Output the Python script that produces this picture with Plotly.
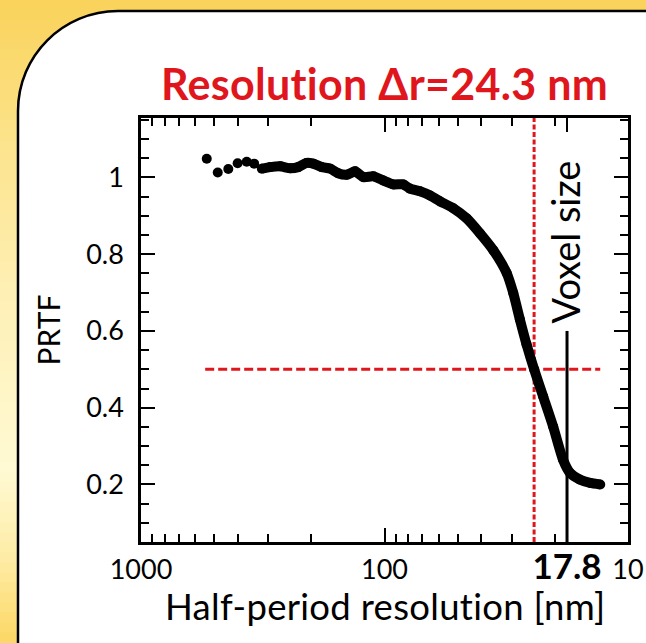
import math
import plotly.graph_objects as go

# PRTF curve: half-period resolution (nm) vs PRTF
sparse_nm = [537, 484, 438, 401, 368, 343]
sparse_prtf = [1.049, 1.013, 1.022, 1.037, 1.041, 1.036]

dense_nm = [319, 295, 268, 244, 226, 209, 196, 181, 167, 155, 143, 132, 122,
            111, 101, 92, 83.8, 78.6, 71.5, 65, 59.2, 52.2, 45.9, 40.5, 35.7,
            31.5, 29.6, 27.8, 26.1, 24.3, 22.3, 20.3, 18.5, 17.3, 15.8, 14.3, 13.0]
dense_prtf = [1.023, 1.027, 1.029, 1.024, 1.027, 1.038, 1.036, 1.027, 1.023,
              1.011, 1.007, 1.016, 1.001, 1.003, 0.992, 0.982, 0.982, 0.971,
              0.964, 0.953, 0.938, 0.920, 0.893, 0.854, 0.810, 0.751, 0.699,
              0.630, 0.565, 0.500, 0.429, 0.351, 0.265, 0.230, 0.213, 0.204, 0.200]

resolution_nm = 24.3
voxel_nm = 17.8
threshold = 0.5
threshold_span_nm = [545, 13]
voxel_line_top = 0.6

x_tickvals = [1000, 100, 17.8, 10]
x_ticktext = ["1000", "100", "<b><span style='font-size:35px'>17.8</span></b>", "10"]
x_minor = [900, 800, 700, 600, 500, 400, 300, 200, 90, 80, 70, 60, 50, 40, 30, 20]
y_tickvals = [0.2, 0.4, 0.6, 0.8, 1.0]
y_ticktext = ["0.2", "0.4", "0.6", "0.8", "1"]
y_range = [0.05, 1.155]

W, H = 646, 643
ML, MR, MT, MB = 141, 18, 118, 101
PW, PH = W - ML - MR, H - MT - MB

FONT = "Lato"
RED = "#e0161d"
# tiny letter spacing keeps "ti" as two separate glyphs
SPACED = "<span style='letter-spacing:0.3px'>%s</span>"


def fx(px):
    return (px - ML) / PW


def fy(py):
    return (H - MB - py) / PH


fig = go.Figure()

fig.add_trace(go.Scatter(
    x=threshold_span_nm, y=[threshold, threshold], mode="lines",
    line=dict(color=RED, width=3, dash="9px,4px"), hoverinfo="skip"))
fig.add_trace(go.Scatter(
    x=[resolution_nm, resolution_nm], y=y_range, mode="lines",
    line=dict(color=RED, width=3, dash="5px,2.5px"), hoverinfo="skip"))
fig.add_trace(go.Scatter(
    x=[voxel_nm, voxel_nm], y=[y_range[0], voxel_line_top], mode="lines",
    line=dict(color="black", width=3), hoverinfo="skip"))

fig.add_trace(go.Scatter(
    x=sparse_nm, y=sparse_prtf, mode="markers",
    marker=dict(color="black", size=10)))
fig.add_trace(go.Scatter(
    x=dense_nm, y=dense_prtf, mode="lines+markers",
    line=dict(color="black", width=10, shape="spline", smoothing=0.6),
    marker=dict(color="black", size=10)))

# background: warm vertical gradient in bands
stops = [(0, (249, 210, 90)), (150, (252, 228, 142)), (300, (254, 240, 182)),
         (470, (255, 250, 212)), (560, (254, 236, 165)), (643, (252, 215, 100))]
shapes = []
nb = 64
for i in range(nb):
    y0 = H * i / nb
    y1 = H * (i + 1) / nb
    yc = (y0 + y1) / 2
    for (sa, ca), (sb, cb) in zip(stops[:-1], stops[1:]):
        if sa <= yc <= sb:
            t = (yc - sa) / (sb - sa)
            c = tuple(round(a + (b - a) * t) for a, b in zip(ca, cb))
            break
    shapes.append(dict(type="rect", xref="paper", yref="paper",
                       x0=fx(-5), x1=fx(W + 5), y0=fy(y1 + 0.5), y1=fy(y0 - 0.5),
                       fillcolor="rgb(%d,%d,%d)" % c, line=dict(width=0), layer="below"))

# white panel with rounded top-left corner
R = 100
k = 0.5523
px0, py0 = 18, 11
pts = (f"M {fx(px0)},{fy(H + 20)} L {fx(px0)},{fy(py0 + R)} "
       f"C {fx(px0)},{fy(py0 + R - k * R)} {fx(px0 + R - k * R)},{fy(py0)} {fx(px0 + R)},{fy(py0)} "
       f"L {fx(W + 20)},{fy(py0)} L {fx(W + 20)},{fy(H + 20)} Z")
shapes.append(dict(type="path", xref="paper", yref="paper", path=pts,
                   fillcolor="white", line=dict(color="black", width=2.5), layer="below"))

axis_common = dict(showline=True, linecolor="black", linewidth=2.5, mirror="ticks",
                   ticks="inside", tickcolor="black", tickwidth=2, ticklen=14,
                   showgrid=False, zeroline=False, automargin=False,
                   tickfont=dict(family=FONT, size=27, color="black"))

fig.update_layout(
    width=W, height=H,
    margin=dict(l=ML, r=MR, t=MT, b=MB, pad=0, autoexpand=False),
    paper_bgcolor="rgb(250,214,96)", plot_bgcolor="white",
    showlegend=False,
    shapes=shapes,
    xaxis=dict(type="log", range=[3, 1], tickmode="array", tickvals=x_tickvals,
               ticktext=x_ticktext, ticklabelstandoff=2,
               minor=dict(tickmode="array", tickvals=x_minor, ticks="inside",
                          ticklen=8, tickwidth=1.5, tickcolor="black"),
               **axis_common),
    yaxis=dict(range=y_range, tickmode="array", tickvals=y_tickvals, ticktext=y_ticktext,
               ticklabelstandoff=9,
               minor=dict(dtick=0.05, tick0=0, ticks="inside", ticklen=8,
                          tickwidth=1.5, tickcolor="black"),
               title=dict(text="PRTF", font=dict(family=FONT, size=30, color="black"),
                          standoff=17),
               **axis_common),
    annotations=[
        dict(text=SPACED % "Resolution \u0394r=24.3 nm",
             xref="paper", yref="paper",
             x=0.5, y=fy(111), xanchor="center", yanchor="bottom", showarrow=False,
             font=dict(family=FONT, size=43, color=RED, weight="bold")),
        dict(text=SPACED % "Half-period resolution [nm]",
             xref="paper", yref="paper",
             x=0.5, y=fy(606), xanchor="center", yanchor="middle", showarrow=False,
             font=dict(family=FONT, size=36.5, color="black")),
        dict(text="Voxel size", xref="x", yref="y", x=math.log10(voxel_nm),
             y=voxel_line_top, xanchor="center", yanchor="bottom", textangle=-90,
             yshift=5, xshift=-2, showarrow=False,
             font=dict(family=FONT, size=38, color="black")),
    ],
)

fig.write_html("out.html")
